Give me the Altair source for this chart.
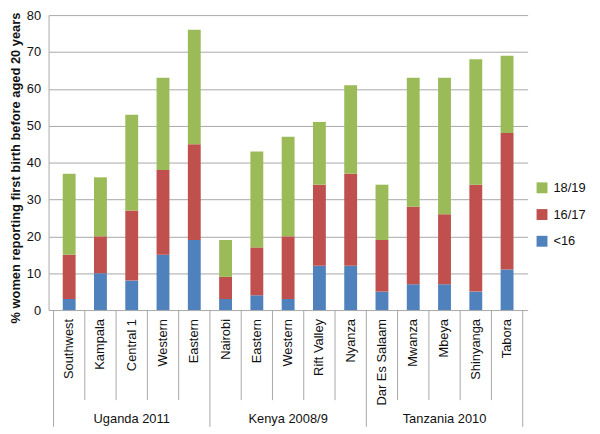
import altair as alt
import pandas as pd

countries = ["Uganda 2011"] * 5 + ["Kenya 2008/9"] * 5 + ["Tanzania 2010"] * 5
regions = ["Southwest", "Kampala", "Central 1", "Western", "Eastern",
           "Nairobi", "Eastern", "Western", "Rift Valley", "Nyanza",
           "Dar Es Salaam", "Mwanza", "Mbeya", "Shinyanga", "Tabora"]
under16 = [3, 10, 8, 15, 19, 3, 4, 3, 12, 12, 5, 7, 7, 5, 11]
age16_17 = [12, 10, 19, 23, 26, 6, 13, 17, 22, 25, 14, 21, 19, 29, 37]
age18_19 = [22, 16, 26, 25, 31, 10, 26, 27, 17, 24, 15, 35, 37, 34, 21]
groups = ["<16", "16/17", "18/19"]
colors = ["#4F81BD", "#C0504D", "#9BBB59"]
y_ticks = [0, 10, 20, 30, 40, 50, 60, 70, 80]

W, H = 484, 298
TOP = 5
GRAY = "#a8a8a8"
FONT = "Liberation Sans"

rows = []
for i, reg in enumerate(regions):
    for k, (g, vals) in enumerate(zip(groups, [under16, age16_17, age18_19])):
        rows.append({"pos": i + 0.5, "region": reg, "country": countries[i],
                     "group": g, "value": vals[i], "ord": k})
bars_df = pd.DataFrame(rows)

labels_df = pd.DataFrame({"pos": [i + 0.5 for i in range(len(regions))], "region": regions})

country_names = list(dict.fromkeys(countries))
c_df = pd.DataFrame({
    "country": country_names,
    "pos": [(countries.index(c) + len(countries) - countries[::-1].index(c)) / 2 for c in country_names],
})

region_b, country_b = [], []
for b in range(len(regions) + 1):
    if b == 0 or b == len(regions) or countries[b - 1] != countries[b]:
        country_b.append(b)
    else:
        region_b.append(b)
rb_df = pd.DataFrame({"pos": region_b})
cb_df = pd.DataFrame({"pos": country_b})

xscale = alt.Scale(domain=[0, len(regions)], nice=False, zero=False)

bars = alt.Chart(bars_df).mark_bar(size=13).encode(
    x=alt.X("pos:Q", scale=xscale, axis=None),
    y=alt.Y("value:Q", stack="zero",
            scale=alt.Scale(domain=[0, 80], nice=False),
            axis=alt.Axis(values=y_ticks, grid=True, gridColor=GRAY, domainColor=GRAY,
                          ticks=False, labelFontSize=13, labelPadding=8, labelColor="#111",
                          labelFont=FONT, titleFont=FONT,
                          title="% women reporting first birth before aged 20 years",
                          titleFontSize=13, titleFontWeight="bold", titleColor="#111",
                          titlePadding=4, titleY=H / 2 + 5)),
    color=alt.Color("group:N",
                    scale=alt.Scale(domain=["18/19", "16/17", "<16"],
                                    range=[colors[2], colors[1], colors[0]]),
                    legend=alt.Legend(title=None, orient="none", legendX=492, legendY=168,
                                      symbolType="square", symbolSize=121, symbolStrokeWidth=0,
                                      labelFontSize=13, labelColor="#111", rowPadding=13,
                                      labelOffset=5, labelFont=FONT)),
    order=alt.Order("ord:Q", sort="ascending"),
)

reg_text = alt.Chart(labels_df).mark_text(angle=270, align="right", baseline="middle",
                                          fontSize=13, color="#111", font=FONT).encode(
    x=alt.X("pos:Q", scale=xscale, axis=None),
    y=alt.value(H + 9),
    text="region:N",
)

country_text = alt.Chart(c_df).mark_text(align="center", baseline="middle",
                                         fontSize=13, color="#111", font=FONT).encode(
    x=alt.X("pos:Q", scale=xscale, axis=None),
    y=alt.value(H + 110),
    text="country:N",
)

region_rules = alt.Chart(rb_df).mark_rule(color=GRAY, strokeWidth=1).encode(
    x=alt.X("pos:Q", scale=xscale, axis=None),
    y=alt.value(H),
    y2=alt.value(H + 91),
)

country_rules = alt.Chart(cb_df).mark_rule(color=GRAY, strokeWidth=1).encode(
    x=alt.X("pos:Q", scale=xscale, axis=None),
    y=alt.value(H),
    y2=alt.value(H + 118),
)

chart = alt.layer(bars, region_rules, country_rules, reg_text, country_text).properties(
    width=W, height=H,
    autosize=alt.AutoSizeParams(type="none"),
    padding={"left": 41, "top": TOP, "right": 65, "bottom": 118},
).configure_view(stroke=None)

chart.save("out.html", embed_options={"renderer": "svg", "actions": False})
